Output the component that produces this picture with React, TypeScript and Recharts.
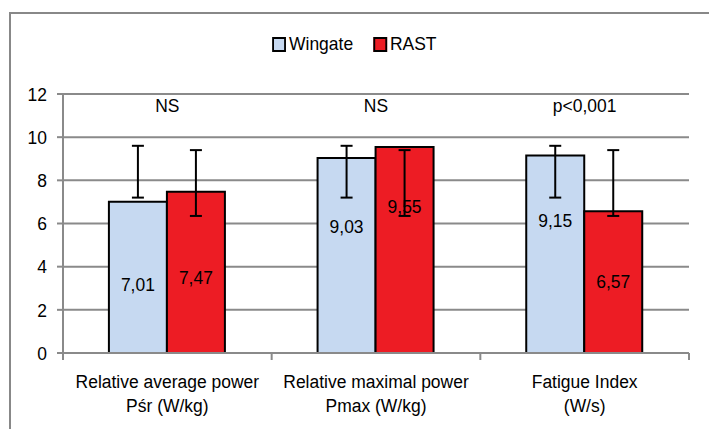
import {
  Bar,
  BarChart,
  CartesianGrid,
  ErrorBar,
  LabelList,
  Legend,
  ReferenceDot,
  XAxis,
  YAxis,
} from "recharts";

const categories = ["Relative average power", "Relative maximal power", "Fatigue Index"];
const units = ["Pśr (W/kg)", "Pmax (W/kg)", "(W/s)"];
const wingate = [7.01, 9.03, 9.15];
const rast = [7.47, 9.55, 6.57];
// error bar ends (same in every group)
const wingateLow = [7.2, 7.2, 7.2];
const wingateHigh = [9.6, 9.6, 9.6];
const rastLow = [6.35, 6.35, 6.35];
const rastHigh = [9.4, 9.4, 9.4];
const significance = ["NS", "NS", "p<0,001"];
const yTicks = [0, 2, 4, 6, 8, 10, 12];

const data = categories.map((name, i) => ({
  name,
  unit: units[i],
  wingate: wingate[i],
  rast: rast[i],
  wingateErr: [wingate[i] - wingateLow[i], wingateHigh[i] - wingate[i]],
  rastErr: [rast[i] - rastLow[i], rastHigh[i] - rast[i]],
}));

const FONT = "'Liberation Sans', Arial, sans-serif";
const FS = 19;
const SQUEEZE = 0.92;
const GRID = "#8a8a8a";
const BLUE = "#c6d9f1";
const RED = "#ed1c24";

// how far below the bar top each value label sits (px), as placed in the original
const WINGATE_DROP = [83, 68, 65];
const RAST_DROP = [85, 59, 70];

// slightly condensed text, like the narrow font of the original
function NText({ x, y, anchor = "middle", baseline, children }: any) {
  return (
    <text
      transform={`translate(${x},${y}) scale(${SQUEEZE},1)`}
      textAnchor={anchor}
      dominantBaseline={baseline}
      fontSize={FS}
      fontFamily={FONT}
      fill="#000"
    >
      {children}
    </text>
  );
}

function valueLabel(drops: number[]) {
  return (props: any) => {
    const { x, y, width, value, index } = props;
    return (
      <NText x={x + width / 2} y={y + drops[index]} baseline="central">
        {String(value).replace(".", ",")}
      </NText>
    );
  };
}

function CategoryTick(props: any) {
  const { x, y, payload, index } = props;
  const half = payload.offset ?? 0;
  return (
    <g>
      <line x1={x - half} x2={x - half} y1={y} y2={y + 7} stroke={GRID} strokeWidth={2} />
      {index === categories.length - 1 && (
        <line x1={x + half} x2={x + half} y1={y} y2={y + 7} stroke={GRID} strokeWidth={2} />
      )}
      <NText x={x} y={y + 35}>{categories[index]}</NText>
      <NText x={x} y={y + 59}>{units[index]}</NText>
    </g>
  );
}

function ValueTick(props: any) {
  const { x, y, payload } = props;
  return (
    <NText x={x} y={y} anchor="end" baseline="central">
      {payload.value}
    </NText>
  );
}

function SigLabel(props: any) {
  const { viewBox, text } = props;
  return (
    <NText x={viewBox.x + viewBox.width / 2} y={viewBox.y + viewBox.height / 2} baseline="central">
      {text}
    </NText>
  );
}

function LegendBox() {
  const items = [
    { name: "Wingate", color: BLUE },
    { name: "RAST", color: RED },
  ];
  return (
    <div
      style={{
        display: "flex",
        justifyContent: "center",
        gap: 22,
        fontFamily: FONT,
        fontSize: FS,
        transform: `scaleX(${SQUEEZE})`,
      }}
    >
      {items.map((it) => (
        <span key={it.name} style={{ display: "inline-flex", alignItems: "center" }}>
          <span
            style={{
              width: 11,
              height: 11,
              background: it.color,
              border: "2px solid #000",
              marginRight: 3,
              display: "inline-block",
            }}
          />
          {it.name}
        </span>
      ))}
    </div>
  );
}

export default function App() {
  return (
    <div style={{ position: "absolute", left: 0, top: 0, width: 709, height: 429, background: "#fff" }}>
      <div
        style={{
          position: "absolute",
          left: 9,
          top: 12,
          width: 720,
          height: 440,
          border: "2px solid #888",
        }}
      />
      <div style={{ position: "absolute", left: 0, top: 0 }}>
        <BarChart
          width={709}
          height={429}
          data={data}
          margin={{ top: 94, right: 20, left: 0, bottom: 16 }}
          barCategoryGap="22%"
          barGap={0}
        >
          <CartesianGrid vertical={false} stroke={GRID} strokeWidth={2} />
          <XAxis
            dataKey="name"
            height={60}
            axisLine={{ stroke: GRID, strokeWidth: 2 }}
            tickLine={false}
            tickSize={0}
            tickMargin={0}
            interval={0}
            tick={<CategoryTick />}
          />
          <YAxis
            width={63}
            domain={[0, 12]}
            ticks={yTicks}
            axisLine={{ stroke: GRID, strokeWidth: 2 }}
            tickLine={{ stroke: GRID, strokeWidth: 2 }}
            tickSize={6}
            tickMargin={10}
            tick={<ValueTick />}
          />
          <Legend
            verticalAlign="middle"
            align="center"
            wrapperStyle={{ top: 33, left: 0, width: 709 }}
            content={<LegendBox />}
          />
          <Bar dataKey="wingate" name="Wingate" fill={BLUE} stroke="#000" strokeWidth={2} isAnimationActive={false}>
            <ErrorBar dataKey="wingateErr" width={6} stroke="#000" strokeWidth={2} direction="y" />
            <LabelList dataKey="wingate" content={valueLabel(WINGATE_DROP)} />
          </Bar>
          <Bar dataKey="rast" name="RAST" fill={RED} stroke="#000" strokeWidth={2} isAnimationActive={false}>
            <ErrorBar dataKey="rastErr" width={6} stroke="#000" strokeWidth={2} direction="y" />
            <LabelList dataKey="rast" content={valueLabel(RAST_DROP)} />
          </Bar>
          {categories.map((c, i) => (
            <ReferenceDot
              key={c}
              x={c}
              y={11.5}
              r={0}
              stroke="none"
              fill="none"
              label={<SigLabel text={significance[i]} />}
            />
          ))}
        </BarChart>
      </div>
    </div>
  );
}
